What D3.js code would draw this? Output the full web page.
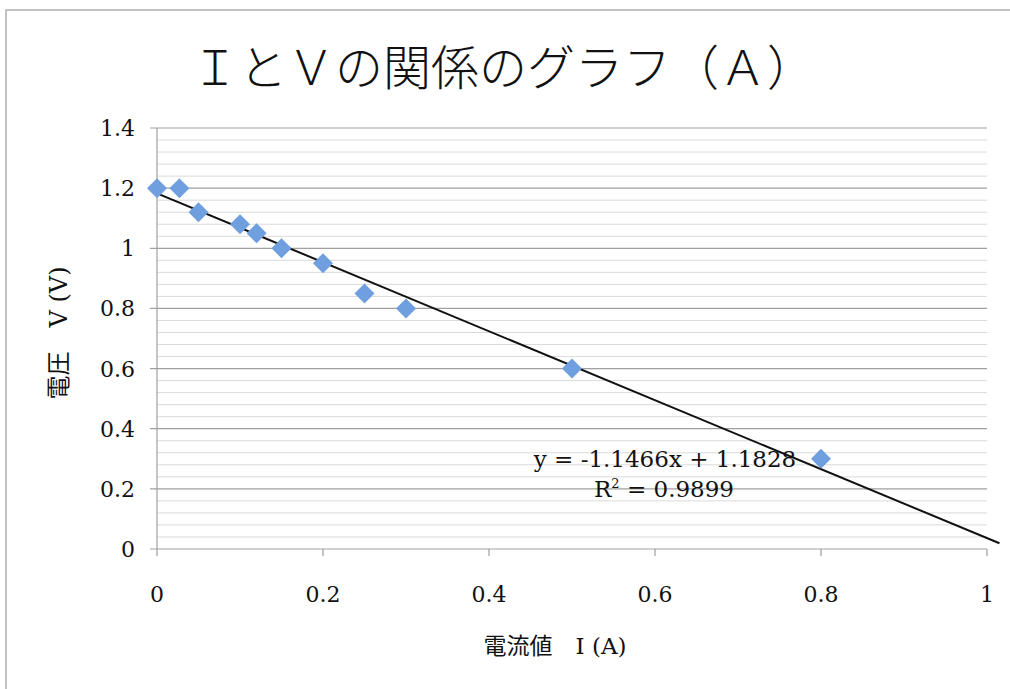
<!DOCTYPE html>
<html lang="ja">
<head>
<meta charset="UTF-8">
<script src="https://d3js.org/d3.v7.min.js"></script>
<style>
  body {margin: 0; background: #fff;}
  svg {display: block;}
  .num {font-family: "DejaVu Serif", "Liberation Serif", serif; fill: #111;}
  .jp {font-family: "Noto Sans CJK JP", sans-serif; fill: #111;}
  .lbl {font-family: "DejaVu Serif", "Noto Sans CJK JP", serif; fill: #111;}
</style>
</head>
<body>
<svg id="chart"></svg>
<script>
// data
const current = [0, 0.027, 0.05, 0.1, 0.12, 0.15, 0.2, 0.25, 0.3, 0.5, 0.8];
const voltage = [1.2, 1.2, 1.12, 1.08, 1.05, 1.0, 0.95, 0.85, 0.8, 0.6, 0.3];
const xTicks = [0, 0.2, 0.4, 0.6, 0.8, 1];
const yTicks = [0, 0.2, 0.4, 0.6, 0.8, 1, 1.2, 1.4];
const slope = -1.1466, intercept = 1.1828;
const trendEnd = 1.015;

const W = 1010, H = 689;
const plotLeft = 157, plotRight = 987, plotTop = 128, plotBottom = 549;

const svg = d3.select("#chart").attr("width", W).attr("height", H);

// outer frame
svg.append("rect").attr("x", 6).attr("y", 10).attr("width", 1010).attr("height", 690)
  .attr("fill", "none").attr("stroke", "#9a9a9a").attr("stroke-width", 1.2);

const x = d3.scaleLinear().domain([0, 1]).range([plotLeft, plotRight]);
const y = d3.scaleLinear().domain([0, 1.4]).range([plotBottom, plotTop]);

// minor gridlines
const minor = d3.range(0, 1.4001, 0.04).filter(v => Math.abs(Math.round(v / 0.2) * 0.2 - v) > 1e-6);
svg.append("g").selectAll("line").data(minor).join("line")
  .attr("x1", plotLeft).attr("x2", plotRight)
  .attr("y1", d => y(d)).attr("y2", d => y(d))
  .attr("stroke", "#dadada").attr("stroke-width", 1);

// major gridlines
svg.append("g").selectAll("line").data(yTicks).join("line")
  .attr("x1", plotLeft - 7).attr("x2", plotRight)
  .attr("y1", d => y(d)).attr("y2", d => y(d))
  .attr("stroke", "#a0a0a0").attr("stroke-width", 1.2);

// y axis line
svg.append("line").attr("x1", plotLeft).attr("x2", plotLeft).attr("y1", plotTop).attr("y2", plotBottom)
  .attr("stroke", "#a0a0a0").attr("stroke-width", 1.2);

// x axis ticks
svg.append("g").selectAll("line").data(xTicks).join("line")
  .attr("x1", d => x(d)).attr("x2", d => x(d)).attr("y1", plotBottom).attr("y2", plotBottom + 7)
  .attr("stroke", "#a0a0a0").attr("stroke-width", 1.2);

// tick labels
svg.append("g").selectAll("text").data(yTicks).join("text")
  .attr("class", "num").attr("x", 135).attr("y", d => y(d) + 8)
  .attr("text-anchor", "end").attr("font-size", 22).text(d => d);

svg.append("g").selectAll("text").data(xTicks).join("text")
  .attr("class", "num").attr("x", d => x(d)).attr("y", 602)
  .attr("text-anchor", "middle").attr("font-size", 22).text(d => d);

// trendline
svg.append("line")
  .attr("x1", x(0)).attr("y1", y(intercept))
  .attr("x2", x(trendEnd)).attr("y2", y(intercept + slope * trendEnd))
  .attr("stroke", "#111").attr("stroke-width", 2);

// diamonds
const pts = current.map((c, i) => ({c: c, v: voltage[i]}));
svg.append("g").selectAll("path").data(pts).join("path")
  .attr("d", d3.symbol().type(d3.symbolSquare).size(200))
  .attr("transform", d => `translate(${x(d.c)},${y(d.v)}) rotate(45)`)
  .attr("fill", "#6f9fdf");

// equation
svg.append("text").attr("class", "num").attr("x", 665).attr("y", 467)
  .attr("text-anchor", "middle").attr("font-size", 23).text("y = -1.1466x + 1.1828");
const r2 = svg.append("text").attr("class", "num").attr("x", 664).attr("y", 497)
  .attr("text-anchor", "middle").attr("font-size", 23);
r2.append("tspan").text("R");
r2.append("tspan").attr("font-size", 13).attr("dy", -9).text("2");
r2.append("tspan").attr("dy", 9).text(" = 0.9899");

// title
svg.append("text").attr("class", "jp").attr("x", 503).attr("y", 85)
  .attr("text-anchor", "middle").attr("font-size", 48).attr("font-weight", 300)
  .text("ＩとＶの関係のグラフ（Ａ）");

// axis titles
svg.append("text").attr("class", "lbl").attr("x", 555).attr("y", 654)
  .attr("text-anchor", "middle").attr("font-size", 23)
  .text("電流値　I (A)");

svg.append("text").attr("class", "lbl")
  .attr("transform", "translate(67,333) rotate(-90)")
  .attr("text-anchor", "middle").attr("font-size", 24)
  .text("電圧　V (V)");
</script>
</body>
</html>
